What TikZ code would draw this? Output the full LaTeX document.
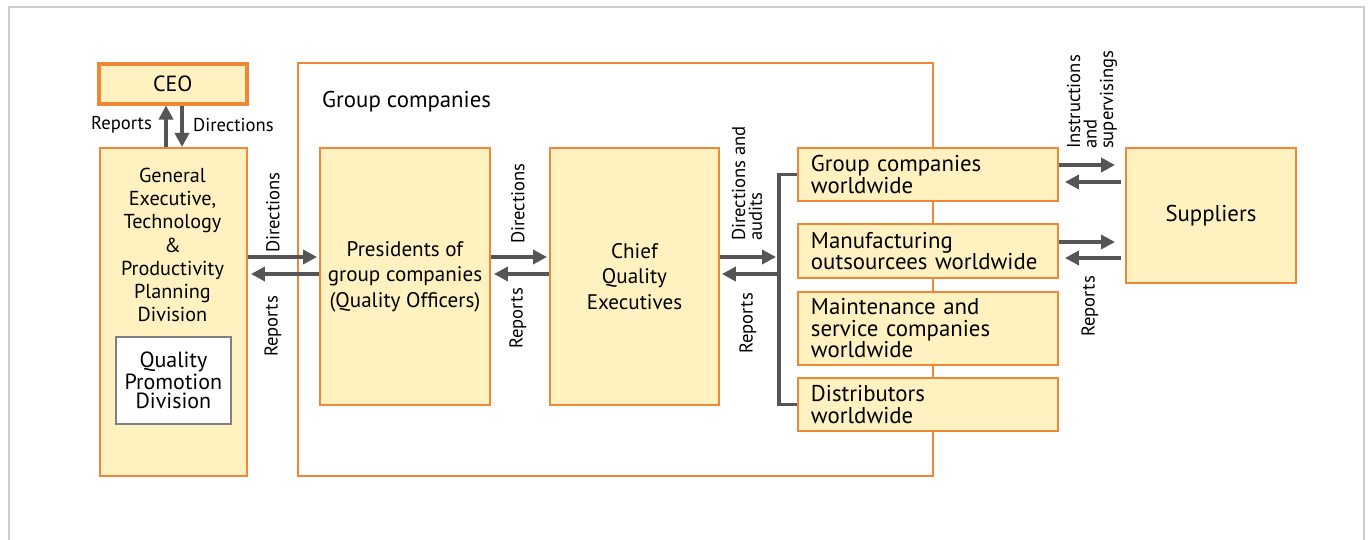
\documentclass[tikz,border=0pt]{standalone}
\usepackage{fontspec}
\setmainfont{PT Sans}
\usetikzlibrary{calc}
\usetikzlibrary{arrows.meta}
\newlength{\unitpx}
\setlength{\unitpx}{0.02cm}
\definecolor{boxorange}{RGB}{240,135,55}
\definecolor{boxfill}{RGB}{255,241,192}
\definecolor{arrowgray}{RGB}{85,85,85}
\definecolor{framegray}{RGB}{205,205,205}

\begin{document}
\begin{tikzpicture}[x=0.02cm,y=-0.02cm,
  orgbox/.style={draw=boxorange,fill=boxfill,line width=1.1pt,inner sep=0pt,anchor=north west},
  flow/.style={draw=arrowgray,line width=2pt,-{Triangle[length=0.28cm,width=0.28cm]}},
  busline/.style={draw=arrowgray,line width=2pt},
  tag/.style={font=\fontsize{10.6}{9.4}\selectfont,inner sep=1pt},
  midtext/.style={font=\fontsize{12}{14.5}\selectfont,align=center},
  sidetext/.style={font=\fontsize{13}{12.2}\selectfont,align=left,inner xsep=13\unitpx}]
\useasboundingbox (0,0) rectangle (1368,540);
\draw[framegray,line width=1.2pt] (9,560) -- (9,7) -- (1364,7) -- (1364,560);

\node[orgbox,fill=white,minimum width=635\unitpx,minimum height=413\unitpx] (grp) at (297,62) {};
\node[anchor=west,font=\fontsize{13}{15}\selectfont] (grplabel) at (316,102) {Group companies};

\node[orgbox,line width=2pt,minimum width=148\unitpx,minimum height=40\unitpx,font=\fontsize{12.5}{14}\selectfont] (ceo) at (97,62) {CEO};
\node[orgbox,minimum width=147\unitpx,minimum height=328\unitpx] (gen) at (99,147) {};
\node[align=center,font=\fontsize{11.5}{13.2}\selectfont] (gentext) at (172.5,245) {General\\Executive,\\Technology\\\&\\Productivity\\Planning\\Division};
\node[draw=gray,fill=white,line width=1pt,anchor=north west,minimum width=115\unitpx,minimum height=87\unitpx,align=center,font=\fontsize{12.5}{11}\selectfont] (qpd) at (115,336) {Quality\\Promotion\\Division};

\node[orgbox,midtext,minimum width=170\unitpx,minimum height=257\unitpx] (pres) at (319,147) {Presidents of\\group companies\\(Quality Officers)};
\node[orgbox,midtext,minimum width=169\unitpx,minimum height=257\unitpx] (cqe) at (549,147) {Chief\\Quality\\Executives};

\node[orgbox,sidetext,text width=234\unitpx,minimum height=53\unitpx] (gcw) at (797,147) {Group companies\\worldwide};
\node[orgbox,sidetext,text width=234\unitpx,minimum height=54\unitpx] (mfg) at (797,223) {Manufacturing\\outsourcees worldwide};
\node[orgbox,sidetext,text width=234\unitpx,minimum height=73\unitpx] (mnt) at (797,291) {Maintenance and\\service companies\\worldwide};
\node[orgbox,sidetext,text width=234\unitpx,minimum height=53\unitpx] (dst) at (797,377) {Distributors\\worldwide};
\node[orgbox,font=\fontsize{13}{15}\selectfont,minimum width=170\unitpx,minimum height=135\unitpx] (sup) at (1125,147) {Suppliers};

\draw[flow] (gen.north -| 166,0) -- (ceo.south -| 166,0);
\draw[flow] (ceo.south -| 182,0) -- (gen.north -| 182,0);
\node[tag,anchor=east] (rep0) at (154,125) {Reports};
\node[tag,anchor=west] (dir0) at (191,125) {Directions};

\draw[flow,shorten >=2\unitpx] (gen.east |- 0,257) -- (pres.west |- 0,257);
\draw[flow,shorten >=3\unitpx] (pres.west |- 0,274) -- (gen.east |- 0,274);
\node[tag,rotate=90,anchor=west] (dir1) at (273,255) {Directions};
\node[tag,rotate=90,anchor=east] (rep1) at (273,294) {Reports};

\draw[flow,shorten >=2\unitpx] (pres.east |- 0,257) -- (cqe.west |- 0,257);
\draw[flow,shorten >=3\unitpx] (cqe.west |- 0,274) -- (pres.east |- 0,274);
\node[tag,rotate=90,anchor=west] (dir2) at (518,246) {Directions};
\node[tag,rotate=90,anchor=east] (rep2) at (518,286) {Reports};

\draw[busline] (gcw.west) -- ++(-18,0) coordinate (bustop) |- (dst.west);
\coordinate (busin) at (776,257);
\coordinate (busout) at (779,274);
\draw[flow] (cqe.east |- busin) -- (busin);
\draw[flow,shorten >=2\unitpx] (busout) -- (cqe.east |- busout);
\node[tag,rotate=90,anchor=west,align=left] (dir3) at (747,243) {Directions and\\audits};
\node[tag,rotate=90,anchor=east] (rep3) at (748,291) {Reports};

\draw[flow,shorten >=10\unitpx] (gcw.east |- 0,165) -- (sup.west |- 0,165);
\draw[flow,shorten <=4\unitpx,shorten >=6\unitpx] (sup.west |- 0,182) -- (gcw.east |- 0,182);
\draw[flow,shorten >=10\unitpx] (mfg.east |- 0,242) -- (sup.west |- 0,242);
\draw[flow,shorten <=4\unitpx,shorten >=6\unitpx] (sup.west |- 0,258) -- (mfg.east |- 0,258);
\node[tag,rotate=90,anchor=west,align=left] (ins) at (1092,151) {Instructions\\and\\supervisings};
\node[tag,rotate=90,anchor=east] (rep4) at (1090,274) {Reports};
\end{tikzpicture}
\end{document}
